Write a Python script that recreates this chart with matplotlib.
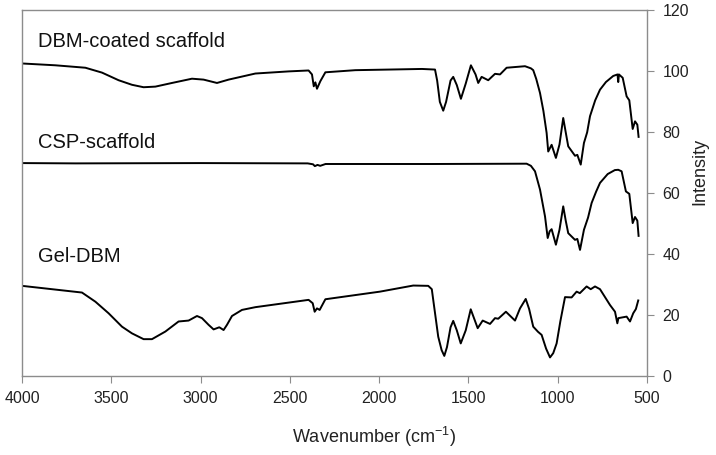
import numpy as np
import matplotlib
matplotlib.use('Agg')
import matplotlib.pyplot as plt

plt.rcParams['font.family'] = ['Liberation Sans', 'DejaVu Sans']
plt.rcParams['mathtext.default'] = 'regular'

# DBM-coated scaffold
dbm_wn = [4000, 3813, 3645, 3552, 3459, 3384, 3319, 3253, 3160, 3048, 2983, 2908, 2843, 2693,
          2506, 2395, 2376, 2366, 2357, 2348, 2329, 2301, 2133, 1760, 1687, 1675, 1660, 1641,
          1625, 1600, 1585, 1565, 1542, 1515, 1486, 1460, 1445, 1426, 1389, 1351, 1323, 1286,
          1183, 1150, 1137, 1120, 1099, 1080, 1062, 1053, 1034, 1010, 990, 969, 955, 941, 903,
          890, 871, 853, 835, 819, 790, 763, 730, 689, 665, 661, 657, 636, 614, 599, 580, 567,
          554, 547]
dbm_int = [102.6, 102.0, 101.2, 99.6, 97.1, 95.6, 94.8, 95.0, 96.2, 97.6, 97.3, 96.2, 97.3, 99.3,
           100.0, 100.3, 99.0, 95.1, 96.4, 94.3, 96.8, 99.7, 100.4, 100.8, 100.6, 97.0, 90.0, 87.1,
           90.0, 97.0, 98.2, 95.5, 91.0, 96.0, 102.0, 99.0, 96.2, 98.2, 97.1, 99.2, 99.0, 101.2,
           101.7, 101.0, 100.4, 97.5, 92.9, 87.0, 79.8, 73.7, 75.9, 71.6, 76.0, 84.7, 80.0, 75.4,
           72.3, 72.6, 69.4, 76.5, 80.0, 85.3, 90.5, 94.0, 96.5, 98.5, 99.0, 96.5, 99.0, 97.9,
           91.8, 90.5, 81.1, 83.6, 82.5, 78.5]

# CSP-scaffold
csp_wn = [4000, 3700, 3000, 2400, 2370, 2360, 2345, 2330, 2300, 1700, 1174, 1150, 1127, 1099,
          1071, 1056, 1045, 1034, 1010, 990, 969, 955, 941, 903, 890, 875, 853, 830, 810, 785,
          763, 720, 680, 661, 642, 618, 599, 580, 567, 554, 547]
csp_int = [69.9, 69.8, 69.9, 69.8, 69.5, 68.9, 69.3, 69.0, 69.6, 69.6, 69.7, 69.0, 67.2, 61.2,
           52.4, 45.3, 47.5, 48.2, 43.1, 48.0, 55.7, 51.0, 46.9, 44.7, 45.0, 41.4, 48.0, 52.0,
           56.8, 60.5, 63.4, 66.3, 67.6, 67.7, 67.2, 60.6, 59.8, 50.2, 52.2, 51.0, 46.0]

# Gel-DBM
gel_wn = [4000, 3664, 3589, 3515, 3440, 3384, 3319, 3272, 3197, 3123, 3067, 3020, 2992, 2955,
          2927, 2895, 2871, 2852, 2824, 2768, 2693, 2395, 2372, 2361, 2348, 2333, 2301, 1995,
          1809, 1725, 1705, 1697, 1669, 1650, 1635, 1620, 1600, 1585, 1565, 1543, 1515, 1487,
          1448, 1420, 1379, 1351, 1333, 1290, 1239, 1211, 1179, 1160, 1137, 1110, 1090, 1065,
          1043, 1025, 1006, 985, 959, 922, 894, 876, 838, 815, 791, 763, 707, 679, 666, 660,
          614, 595, 577, 562, 549]
gel_int = [29.6, 27.4, 24.4, 20.6, 16.2, 14.0, 12.1, 12.1, 14.6, 17.9, 18.2, 19.7, 19.0, 16.8,
           15.3, 16.0, 15.1, 16.8, 19.7, 21.7, 22.6, 25.0, 23.9, 21.1, 22.2, 21.7, 25.2, 27.7,
           29.7, 29.6, 28.5, 25.0, 12.9, 8.5, 6.6, 9.5, 16.0, 18.1, 15.0, 10.7, 15.0, 21.9,
           15.7, 18.2, 17.1, 19.0, 18.8, 21.1, 18.2, 22.2, 25.3, 22.0, 16.2, 14.5, 13.5, 9.0,
           6.1, 7.5, 10.7, 18.0, 25.9, 25.8, 27.7, 27.2, 29.4, 28.5, 29.4, 28.5, 23.3, 21.1,
           17.3, 19.0, 19.5, 17.9, 20.6, 22.0, 24.8]

labels = ['DBM-coated scaffold', 'CSP-scaffold', 'Gel-DBM']
label_y = [109.8, 76.6, 39.3]

fig = plt.figure(figsize=(7.16, 4.55), dpi=100)
ax = fig.add_axes([0.0307, 0.1736, 0.8729, 0.8034])

for wn, inten in [(dbm_wn, dbm_int), (csp_wn, csp_int), (gel_wn, gel_int)]:
    ax.plot(wn, inten, color='black', lw=1.4, solid_joinstyle='round')

ax.set_xlim(4000, 500)
ax.set_ylim(0, 120)
ax.set_xticks(np.arange(4000, 499, -500))
ax.set_yticks(np.arange(0, 121, 20))

ax.yaxis.tick_right()
ax.yaxis.set_label_position('right')
for s in ax.spines.values():
    s.set_color('#8c8c8c')
    s.set_linewidth(1.0)
ax.tick_params(axis='both', direction='out', length=5, color='#8c8c8c', labelsize=11.5,
               labelcolor='#222222')
ax.tick_params(axis='x', pad=6)
ax.tick_params(axis='y', pad=6)

ax.set_xlabel('Wavenumber (cm$^{-1}$)', fontsize=13, color='#222222', va='center')
ax.xaxis.set_label_coords(0.563, -0.167)
ax.set_ylabel('Intensity', fontsize=13, color='#222222', va='center', ha='center')
ax.yaxis.set_label_coords(1.085, 0.56)

for txt, yy in zip(labels, label_y):
    ax.text(3910, yy, txt, fontsize=14.5, ha='left', va='center', color='#111111')

fig.savefig('out.png', dpi=100)
